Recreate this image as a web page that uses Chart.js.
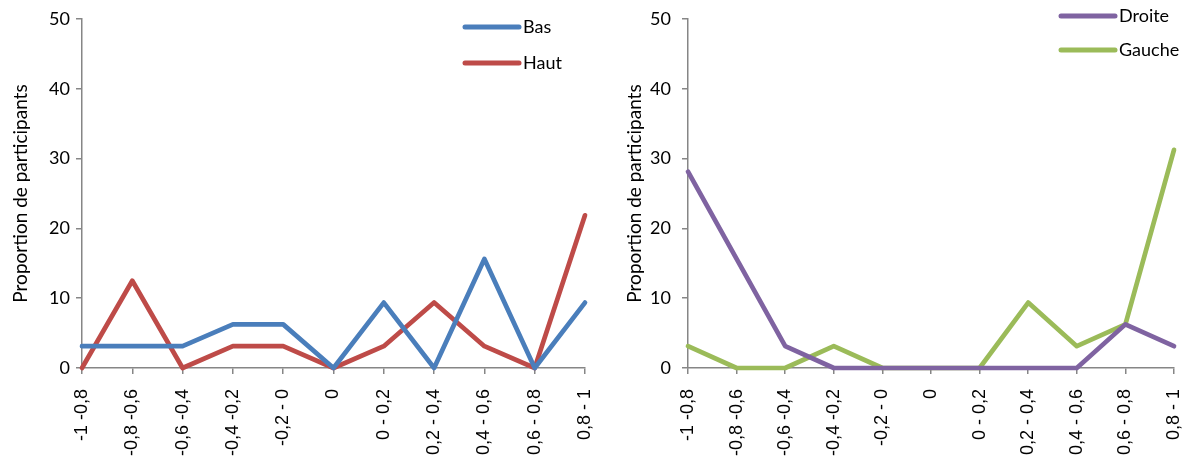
<!DOCTYPE html>
<html>
<head>
<meta charset="utf-8">
<script src="https://cdn.jsdelivr.net/npm/chart.js@4.4.1/dist/chart.umd.min.js"></script>
<style>
    body { margin: 0; background: #fff; width: 1192px; height: 463px; overflow: hidden; position: relative; }
    .box { position: absolute; top: 0; height: 463px; }
    #left { left: 0; width: 600px; }
    #right { left: 600px; width: 592px; }
</style>
</head>
<body>
<div class="box" id="left"><canvas id="chartHautBas"></canvas></div>
<div class="box" id="right"><canvas id="chartDroiteGauche"></canvas></div>
<script>
const categories = ["-1 -0,8", "-0,8 -0,6", "-0,6 -0,4", "-0,4 -0,2", "-0,2 - 0", "0",
    "0 - 0,2", "0,2 - 0,4", "0,4 - 0,6", "0,6 - 0,8", "0,8 - 1"];
const yTicks = [0, 10, 20, 30, 40, 50];

const bas    = [3.125, 3.125, 3.125, 6.25, 6.25, 0, 9.375, 0, 15.625, 0, 9.375];
const haut   = [0, 12.5, 0, 3.125, 3.125, 0, 3.125, 9.375, 3.125, 0, 21.875];
const droite = [28.125, 15.625, 3.125, 0, 0, 0, 0, 0, 0, 6.25, 3.125];
const gauche = [3.125, 0, 0, 3.125, 0, 0, 0, 9.375, 3.125, 6.25, 31.25];

const axisColor = '#868686';
const calibriLike = 'Lato, "Open Sans", sans-serif';

// draws the Excel style legend (line sample + label) at a fixed spot
const lineLegend = {
    id: 'lineLegend',
    afterDraw(chart, args, opts) {
        const ctx = chart.ctx;
        ctx.save();
        chart.data.datasets.forEach((ds, i) => {
            const y = opts.y + i * opts.gap;
            ctx.strokeStyle = ds.borderColor;
            ctx.lineWidth = 5;
            ctx.lineCap = 'round';
            ctx.beginPath();
            ctx.moveTo(opts.x, y);
            ctx.lineTo(opts.x + 54, y);
            ctx.stroke();
            ctx.fillStyle = '#000';
            ctx.font = '18px ' + calibriLike;
            ctx.textBaseline = 'middle';
            ctx.fillText(ds.label, opts.x + 58, y);
        });
        ctx.restore();
    }
};

function makeDataset(label, data, color) {
    return {
        label: label,
        data: data,
        borderColor: color,
        backgroundColor: color,
        borderWidth: 4.7,
        pointRadius: 0,
        tension: 0,
        clip: false,
        borderJoinStyle: 'round',
        borderCapStyle: 'round'
    };
}

function createChart(canvasId, datasets, cfg) {
    return new Chart(document.getElementById(canvasId), {
        type: 'line',
        data: { labels: categories, datasets: datasets },
        options: {
            responsive: true,
            maintainAspectRatio: false,
            animation: false,
            layout: { padding: { top: 19, right: cfg.padRight, bottom: 0, left: 0 } },
            scales: {
                x: {
                    afterFit: scale => {
                        scale.height = 95;
                        // rotated labels would otherwise push the plot in from the right
                        scale.paddingLeft = 0;
                        scale.paddingRight = 0;
                    },
                    border: { color: axisColor, width: 1.5 },
                    grid: { drawOnChartArea: false, tickLength: 6, color: axisColor, lineWidth: 1.5 },
                    ticks: {
                        autoSkip: false,
                        maxRotation: 90,
                        minRotation: 90,
                        padding: 15,
                        color: '#000',
                        font: { family: '"Liberation Sans", Arial, sans-serif', size: 18 }
                    }
                },
                y: {
                    min: 0,
                    max: 50,
                    afterFit: scale => { scale.width = cfg.yWidth; },
                    afterBuildTicks: scale => { scale.ticks = yTicks.map(v => ({ value: v })); },
                    border: { color: axisColor, width: 1.5 },
                    grid: { drawOnChartArea: false, tickLength: 6, color: axisColor, lineWidth: 1.5 },
                    ticks: {
                        padding: cfg.tickPad,
                        color: '#000',
                        font: { family: calibriLike, size: 18, lineHeight: 0.8 }
                    },
                    title: {
                        display: true,
                        text: 'Proportion de participants',
                        color: '#000',
                        padding: { top: cfg.titlePad, bottom: 0 },
                        font: { family: calibriLike, size: 19 }
                    }
                }
            },
            plugins: {
                legend: { display: false },
                tooltip: { enabled: false },
                lineLegend: cfg.legend
            }
        },
        plugins: [lineLegend]
    });
}

createChart('chartHautBas',
    [makeDataset('Bas', bas, '#4A7EBB'), makeDataset('Haut', haut, '#BE4B48')],
    { yWidth: 82, padRight: 15, tickPad: 6, titlePad: 9, legend: { x: 465, y: 27, gap: 36 } });

createChart('chartDroiteGauche',
    [makeDataset('Droite', droite, '#7F63A1'), makeDataset('Gauche', gauche, '#9BBB59')],
    { yWidth: 88, padRight: 18, tickPad: 11, titlePad: 23, legend: { x: 461, y: 16, gap: 34 } });
</script>
</body>
</html>
